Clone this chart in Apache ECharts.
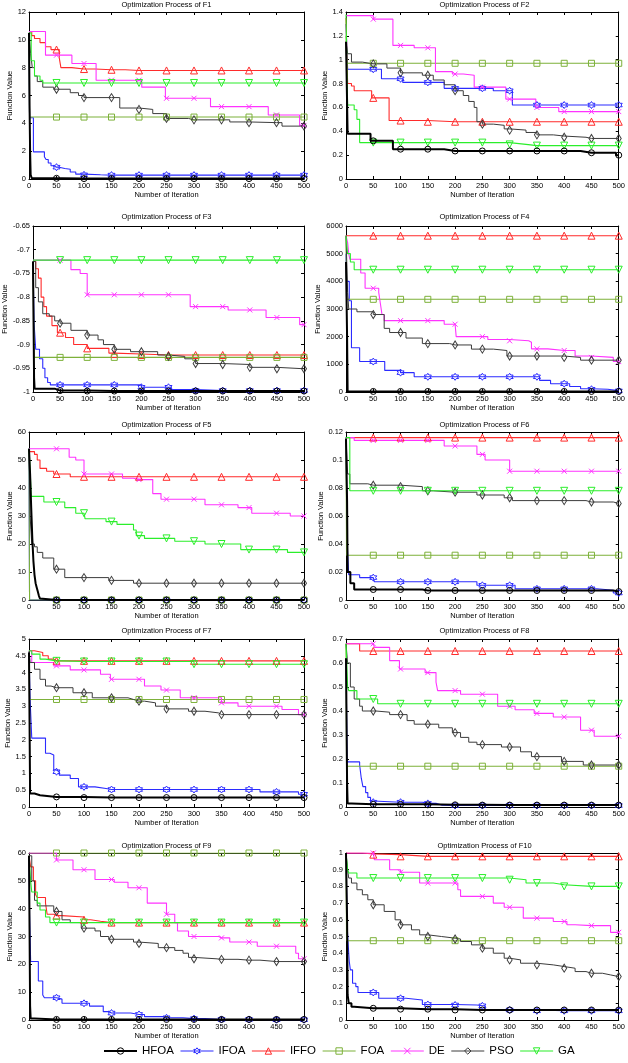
<!DOCTYPE html>
<html><head><meta charset="utf-8">
<script src="https://cdn.jsdelivr.net/npm/echarts@6/dist/echarts.min.js"></script>
<style>html,body{margin:0;padding:0;background:#fff}#c{width:628px;height:1063px}</style>
</head><body><div id="c"></div>
<script>
// ---------- DATA ----------
const algorithms = ['HFOA','IFOA','IFFO','FOA','DE','PSO','GA'];
const xMax = 500, xStep = 50;
const titles = ['Optimization Process of F1','Optimization Process of F2','Optimization Process of F3','Optimization Process of F4','Optimization Process of F5','Optimization Process of F6','Optimization Process of F7','Optimization Process of F8','Optimization Process of F9','Optimization Process of F10'];
const yMin  = [0, 0, -1, 0, 0, 0, 0, 0, 0, 0];
const yMax  = [12, 1.4, -0.65, 6000, 60, 0.12, 5, 0.7, 60, 1];
const yStep = [2, 0.2, 0.05, 1000, 10, 0.02, 0.5, 0.1, 10, 0.1];

// each curve: breakpoints [iteration where value starts, best value]; order = algorithms
const F1 = [
  [[0,10.5],[1,5.3],[2,2],[3,0.3],[5,0.05],[60,0.03]],
  [[0,10.5],[1,4.4],[8,1.95],[28,1.6],[31,1.4],[35,1.15],[40,0.95],[45,0.85],[55,0.75],[65,0.7],[75,0.5],[85,0.35],[100,0.3],[130,0.28]],
  [[0,10.6],[5,10.3],[10,10.1],[20,9.8],[30,9.5],[40,9.3],[55,8.7],[58,8.0],[78,7.9],[120,7.85],[175,7.8]],
  [[0,10.5],[1,4.45]],
  [[0,10.6],[30,8.9],[78,8.3],[122,7.1],[205,6.6],[248,5.8],[330,5.2],[435,4.6],[492,3.85]],
  [[0,10.5],[3,9],[6,8],[10,7.4],[15,7.0],[25,6.6],[45,6.45],[75,6.2],[90,6.0],[100,5.85],[165,5.1],[200,5.0],[225,4.7],[250,4.35],[290,4.25],[365,4.1],[400,4.05],[460,3.8]],
  [[0,10.5],[4,8.5],[10,7.4],[20,7.1],[25,6.9]]
];
const F2 = [
  [[0,1.15],[3,0.38],[45,0.32],[86,0.25],[180,0.235],[430,0.22],[495,0.2]],
  [[0,1.3],[3,0.92],[65,0.84],[104,0.81],[180,0.76],[270,0.74],[305,0.62]],
  [[0,1.35],[3,0.8],[10,0.78],[15,0.74],[47,0.68],[79,0.49],[150,0.48]],
  [[0,1.2],[1,0.97]],
  [[0,1.37],[50,1.34],[86,1.12],[125,1.1],[164,0.9],[195,0.88],[215,0.87],[235,0.77],[293,0.67],[348,0.6],[390,0.565]],
  [[0,1.15],[3,1.05],[10,0.98],[30,0.965],[75,0.93],[100,0.89],[140,0.87],[160,0.83],[180,0.79],[200,0.74],[215,0.7],[225,0.65],[235,0.6],[240,0.48],[250,0.46],[270,0.45],[290,0.42],[300,0.41],[330,0.39],[350,0.37],[380,0.36],[400,0.35],[440,0.34]],
  [[0,1.38],[3,0.62],[15,0.58],[20,0.5],[25,0.305],[300,0.29],[330,0.28]]
];
const F3 = [
  [[0,-0.725],[1,-0.85],[2,-0.97],[3,-0.993],[40,-0.997],[100,-0.998]],
  [[0,-0.725],[2,-0.855],[5,-0.91],[12,-0.93],[18,-0.95],[22,-0.97],[27,-0.98],[32,-0.985],[200,-0.99],[255,-0.995],[300,-0.997]],
  [[0,-0.725],[5,-0.74],[10,-0.76],[15,-0.8],[20,-0.82],[25,-0.84],[35,-0.86],[45,-0.875],[60,-0.885],[75,-0.9],[100,-0.908],[140,-0.918],[150,-0.92],[200,-0.922]],
  [[0,-0.725],[2,-0.927]],
  [[0,-0.722],[70,-0.742],[87,-0.75],[100,-0.795],[290,-0.82],[360,-0.827],[430,-0.843],[492,-0.858]],
  [[0,-0.725],[5,-0.78],[10,-0.81],[18,-0.835],[30,-0.84],[40,-0.85],[50,-0.855],[70,-0.87],[100,-0.88],[120,-0.89],[130,-0.9],[150,-0.91],[180,-0.915],[230,-0.922],[250,-0.925],[280,-0.93],[300,-0.94],[350,-0.942],[400,-0.948],[450,-0.951]],
  [[0,-0.722]]
];
const F4 = [
  [[0,4700],[2,2000],[3,20]],
  [[0,5000],[1,4000],[6,3300],[10,1600],[25,1100],[71,780],[100,700],[125,550],[355,420],[375,300],[410,200],[430,120],[450,100],[480,60],[495,40]],
  [[0,5650]],
  [[0,5650],[1,3350]],
  [[0,5650],[3,5400],[5,5000],[7,4800],[27,4300],[35,3750],[60,3600],[63,3200],[66,2800],[70,2580],[180,2450],[202,2000],[260,1900],[300,1850],[335,1800],[340,1560],[370,1500],[420,1300],[450,1250],[490,1100]],
  [[0,5650],[3,3600],[5,3000],[20,2900],[50,2800],[70,2300],[80,2150],[110,1950],[140,1750],[190,1700],[230,1550],[270,1500],[295,1300],[400,1250],[430,1150]],
  [[0,5650],[3,5000],[8,4700],[15,4420]]
];
const F5 = [
  [[0,54],[2,45],[4,33],[6,22],[8,14],[10,9],[12,6],[14,4.5],[16,3],[18,1.5],[20,0.5],[22,0]],
  [[0,54],[1,0]],
  [[0,53],[10,52],[15,50],[20,47],[32,46],[45,45],[75,44]],
  [[0,54],[1,0]],
  [[0,54],[73,51],[85,50],[100,45],[170,43.5],[190,43],[225,38],[240,36],[320,34],[380,33],[405,31],[475,30]],
  [[0,54],[2,30],[5,20],[10,19],[15,17],[25,15],[45,11],[65,8],[145,7],[190,6]],
  [[0,54],[2,47],[4,37],[27,35],[65,33],[85,31],[102,29],[140,28],[160,27],[190,25],[195,23],[210,22],[265,21],[320,20],[385,18],[470,17]]
];
const F6 = [
  [[0,0.115],[2,0.07],[3,0.02],[8,0.012],[15,0.0075],[140,0.0068],[490,0.006]],
  [[0,0.116],[2,0.042],[5,0.018],[25,0.016],[52,0.013],[240,0.0105],[310,0.008],[460,0.007],[490,0.005]],
  [[0,0.116]],
  [[0,0.116],[1,0.032]],
  [[0,0.116],[15,0.114],[180,0.11],[240,0.104],[255,0.1],[300,0.092]],
  [[0,0.116],[3,0.09],[7,0.083],[40,0.082],[100,0.081],[140,0.078],[160,0.077],[240,0.075],[290,0.073],[305,0.071],[440,0.07],[490,0.069]],
  [[0,0.116],[7,0.078]]
];
const F7 = [
  [[0,4.6],[2,0.4],[10,0.35],[20,0.3],[100,0.28]],
  [[0,4.6],[2,3.2],[5,2.05],[30,1.6],[38,1.55],[45,1.1],[50,1.05],[55,0.95],[75,0.85],[90,0.6],[120,0.55],[140,0.52],[420,0.45],[490,0.38]],
  [[0,4.65],[10,4.6],[25,4.5],[35,4.4],[45,4.35]],
  [[0,4.6],[1,3.2]],
  [[0,4.65],[5,4.3],[45,4.2],[75,4.08],[130,3.95],[148,3.8],[210,3.6],[240,3.48],[275,3.25],[350,3.1],[380,3.0],[460,2.9],[490,2.75]],
  [[0,4.65],[2,4.3],[10,4.1],[20,3.8],[30,3.6],[40,3.55],[80,3.4],[115,3.25],[180,3.2],[190,3.15],[210,3.1],[230,3.0],[250,2.92],[290,2.85],[320,2.8],[345,2.75]],
  [[0,4.65],[5,4.55],[20,4.4],[30,4.35],[60,4.33],[300,4.25]]
];
const F8 = [
  [[0,0.62],[2,0.1],[3,0.015],[10,0.011],[150,0.009],[250,0.008]],
  [[0,0.62],[2,0.188],[25,0.175],[28,0.12],[31,0.085],[36,0.06],[40,0.04],[45,0.025],[50,0.02],[140,0.015],[165,0.008],[175,0.006]],
  [[0,0.68],[25,0.65]],
  [[0,0.68],[1,0.17]],
  [[0,0.68],[52,0.665],[80,0.61],[98,0.575],[145,0.56],[165,0.52],[168,0.485],[210,0.47],[278,0.42],[310,0.405],[345,0.39],[380,0.375],[430,0.32],[455,0.295]],
  [[0,0.68],[3,0.6],[8,0.5],[15,0.45],[25,0.42],[30,0.4],[55,0.395],[80,0.385],[112,0.36],[125,0.345],[170,0.33],[195,0.31],[210,0.29],[225,0.27],[240,0.26],[285,0.25],[320,0.23],[340,0.21],[395,0.19],[435,0.175]],
  [[0,0.68],[3,0.5],[5,0.485],[20,0.45],[58,0.43]]
];
const F9 = [
  [[0,59],[2,5],[3,0.5],[10,0.2]],
  [[0,59],[1,38],[3,21],[17,14],[25,9],[28,8],[52,7.5],[60,6],[110,5],[135,3],[145,2.5],[185,2],[210,1.2],[245,0.8],[280,0.5],[320,0.2],[420,0.1]],
  [[0,59],[3,55],[8,50],[12,45],[15,44],[30,42],[33,38],[45,37.5],[60,37],[100,36],[112,35.5],[130,35]],
  [[0,60]],
  [[0,60],[50,57.5],[80,54],[120,50.5],[155,49.5],[180,47.5],[215,42],[250,38],[265,35],[270,32],[290,30],[345,29.5],[365,28],[415,26.5],[485,24],[490,22]],
  [[0,59],[5,50],[10,43],[15,41],[45,39],[60,36],[75,35],[95,33],[120,32],[130,30],[145,29],[190,28],[200,27.5],[235,26],[265,25],[280,24],[290,22.5],[300,22],[340,21.8],[380,21.5],[420,21]],
  [[0,59],[3,50],[5,46],[15,42],[20,39.5],[30,37],[38,35]]
];
const F10 = [
  [[0,1.0],[2,0.6],[3,0.15],[5,0.1],[10,0.08],[15,0.07],[100,0.065],[200,0.06]],
  [[0,1.0],[2,0.57],[4,0.45],[6,0.35],[8,0.3],[12,0.22],[18,0.2],[22,0.165],[60,0.13],[110,0.12],[140,0.093],[200,0.09],[240,0.085],[255,0.06],[350,0.055]],
  [[0,1.0],[30,0.995],[50,0.99],[100,0.98]],
  [[0,1.0],[1,0.475]],
  [[0,1.0],[52,0.96],[80,0.9],[100,0.885],[135,0.82],[205,0.78],[210,0.74],[270,0.7],[290,0.675],[325,0.61],[380,0.59],[405,0.57],[420,0.565],[485,0.525]],
  [[0,1.0],[3,0.9],[5,0.85],[10,0.82],[20,0.78],[30,0.75],[40,0.72],[50,0.69],[70,0.65],[90,0.6],[100,0.57],[120,0.54],[135,0.51],[150,0.5],[175,0.49],[200,0.485],[210,0.47],[230,0.45],[250,0.43],[270,0.4],[290,0.37],[300,0.36],[320,0.34],[350,0.33],[380,0.32],[400,0.31],[420,0.29],[440,0.28],[470,0.27],[485,0.26]],
  [[0,1.0],[3,0.9],[5,0.88],[20,0.85],[300,0.84],[330,0.82],[380,0.81],[400,0.8]]
];
const funcs = [F1,F2,F3,F4,F5,F6,F7,F8,F9,F10];

// ---------- STYLE ----------
const FONT = 'Liberation Sans';
const colors = ['#000000','#2b2bff','#ff2b2b','#7db13a','#ff33ff','#3c3c3c','#2bee2b'];
const HEX = 'path://M0,-10L2.9,-5L8.66,-5L5.8,0L8.66,5L2.9,5L0,10L-2.9,5L-8.66,5L-5.8,0L-8.66,-5L-2.9,-5Z';
const XMARK = 'path://M0,0L10,10M10,0L0,10';
const symbols = ['circle', HEX, 'triangle', 'rect', XMARK, 'diamond', 'triangle'];
const symbolSizes = [6, 7, 7, 6, 5, [5,8], 7];
const symbolRot = [0,0,0,0,0,0,180];
const lineWidths = [2, 1.1, 1.1, 1.1, 1.1, 1, 1.1];
const colLeft = [29, 346], colWidth = [275, 277];
const rowTop = [12, 226, 432, 639, 853], rowHeight = [167, 166, 168, 168, 167];
const titleTop = [1, 213, 421, 627, 842];

function valueAt(pts, x) {
  let v = pts[0][1];
  for (const p of pts) { if (p[0] <= x) v = p[1]; else break; }
  return v;
}
function buildData(pts) {
  const out = pts.map(p => ({ value: [p[0], p[1]], m: 0 }));
  const last = pts[pts.length - 1];
  if (last[0] < xMax) out.push({ value: [xMax, last[1]], m: 0 });
  for (let m = xStep; m <= xMax; m += xStep) out.push({ value: [m, valueAt(pts, m)], m: 1 });
  out.sort((a, b) => (a.value[0] - b.value[0]) || (a.m - b.m));
  return out.map(o => { const r = { value: o.value }; if (!o.m) r.symbol = 'none'; return r; });
}
const fmt = v => String(parseFloat(Number(v).toPrecision(10)));

const grids = [], xAxes = [], yAxes = [], titleArr = [], series = [];
const tickStyle = { inside: true, length: 3, lineStyle: { color: '#000', width: 1 } };
const lineAx = { show: true, onZero: false, lineStyle: { color: '#000', width: 1 } };
funcs.forEach((F, i) => {
  const r = Math.floor(i / 2), c = i % 2;
  grids.push({ left: colLeft[c], top: rowTop[r], width: colWidth[c], height: rowHeight[r], containLabel: false });
  titleArr.push({ text: titles[i], left: colLeft[c] + colWidth[c] / 2, top: titleTop[r], textAlign: 'center', padding: 0,
    textStyle: { fontFamily: FONT, fontSize: 7.5, fontWeight: 'normal', color: '#000' } });
  xAxes.push({ gridIndex: i, type: 'value', min: 0, max: xMax, interval: xStep, position: 'bottom',
    axisLine: lineAx, axisTick: tickStyle, splitLine: { show: false },
    axisLabel: { fontFamily: FONT, fontSize: 7.5, color: '#000', margin: 3, formatter: fmt },
    name: 'Number of Iteration', nameLocation: 'middle', nameGap: 11,
    nameTextStyle: { fontFamily: FONT, fontSize: 7.5, color: '#000' } });
  xAxes.push({ gridIndex: i, type: 'value', min: 0, max: xMax, interval: xStep, position: 'top',
    axisLine: lineAx, axisTick: tickStyle, splitLine: { show: false }, axisLabel: { show: false } });
  yAxes.push({ gridIndex: i, type: 'value', min: yMin[i], max: yMax[i], interval: yStep[i], position: 'left',
    axisLine: lineAx, axisTick: tickStyle, splitLine: { show: false },
    axisLabel: { fontFamily: FONT, fontSize: 7.5, color: '#000', margin: 3, formatter: fmt },
    name: 'Function Value', nameLocation: 'middle', nameGap: 15,
    nameTextStyle: { fontFamily: FONT, fontSize: 7.5, color: '#000' } });
  yAxes.push({ gridIndex: i, type: 'value', min: yMin[i], max: yMax[i], interval: yStep[i], position: 'right',
    axisLine: lineAx, axisTick: tickStyle, splitLine: { show: false }, axisLabel: { show: false } });
  F.forEach((pts, j) => {
    series.push({
      type: 'line', name: algorithms[j], xAxisIndex: 2 * i, yAxisIndex: 2 * i, color: colors[j],
      data: buildData(pts), step: 'end', showAllSymbol: true,
      symbol: symbols[j], symbolSize: symbolSizes[j], symbolRotate: symbolRot[j],
      lineStyle: { color: colors[j], width: lineWidths[j] },
      itemStyle: { color: 'rgba(0,0,0,0)', borderColor: colors[j], borderWidth: 1 },
      emphasis: { disabled: true }, animation: false, z: 2 + (j === 0 ? 1 : 0), clip: true
    });
  });
});

const chart = echarts.init(document.getElementById('c'), null, { renderer: 'canvas' });
chart.setOption({
  backgroundColor: '#fff',
  animation: false,
  title: titleArr,
  grid: grids, xAxis: xAxes, yAxis: yAxes, series,
  legend: {
    data: algorithms.map((n, j) => ({ name: n,
      itemStyle: { color: 'rgba(0,0,0,0)', borderColor: colors[j], borderWidth: 1 },
      lineStyle: { color: colors[j], width: lineWidths[j] } })),
    left: 103, top: 1045, width: 520, padding: 0, itemWidth: 33, itemHeight: 8, itemGap: 6,
    selectedMode: false, textStyle: { fontFamily: FONT, fontSize: 11.5, color: '#000' } }
});
</script></body></html>
